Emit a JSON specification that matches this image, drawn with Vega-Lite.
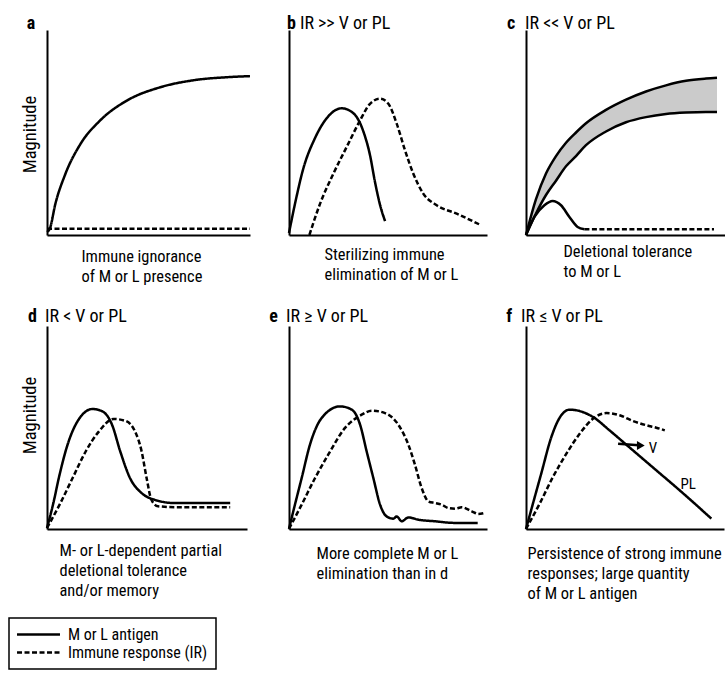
{
  "$schema": "https://vega.github.io/schema/vega-lite/v6.json",
  "background": "white",
  "padding": {"left": 8, "top": 14, "right": 0, "bottom": 0},
  "bounds": "flush",
  "align": "each",
  "columns": 3,
  "spacing": {"row": 91, "column": 39},
  "resolve": {"scale": {"strokeDash": "shared"}, "legend": {"strokeDash": "shared"}},
  "datasets": {
    "curves": [
      {"panel": "a", "series": "M or L antigen", "x": 0, "y": 0.15},
      {"panel": "a", "series": "M or L antigen", "x": 0.15, "y": 0.34},
      {"panel": "a", "series": "M or L antigen", "x": 0.4, "y": 1.47},
      {"panel": "a", "series": "M or L antigen", "x": 0.89, "y": 2.94},
      {"panel": "a", "series": "M or L antigen", "x": 1.63, "y": 4.41},
      {"panel": "a", "series": "M or L antigen", "x": 2.62, "y": 5.59},
      {"panel": "a", "series": "M or L antigen", "x": 3.96, "y": 6.57},
      {"panel": "a", "series": "M or L antigen", "x": 5.59, "y": 7.21},
      {"panel": "a", "series": "M or L antigen", "x": 7.23, "y": 7.55},
      {"panel": "a", "series": "M or L antigen", "x": 8.91, "y": 7.7},
      {"panel": "a", "series": "M or L antigen", "x": 10, "y": 7.75},
      {"panel": "a", "series": "Immune response (IR)", "x": 0, "y": 0.3},
      {"panel": "a", "series": "Immune response (IR)", "x": 10, "y": 0.3},

      {"panel": "b", "series": "M or L antigen", "x": 0, "y": 0.1},
      {"panel": "b", "series": "M or L antigen", "x": 0.3, "y": 1.51},
      {"panel": "b", "series": "M or L antigen", "x": 0.72, "y": 3.23},
      {"panel": "b", "series": "M or L antigen", "x": 1.31, "y": 4.72},
      {"panel": "b", "series": "M or L antigen", "x": 1.9, "y": 5.69},
      {"panel": "b", "series": "M or L antigen", "x": 2.66, "y": 6.18},
      {"panel": "b", "series": "M or L antigen", "x": 3.25, "y": 5.94},
      {"panel": "b", "series": "M or L antigen", "x": 3.76, "y": 5.04},
      {"panel": "b", "series": "M or L antigen", "x": 4.09, "y": 3.9},
      {"panel": "b", "series": "M or L antigen", "x": 4.34, "y": 2.6},
      {"panel": "b", "series": "M or L antigen", "x": 4.6, "y": 1.46},
      {"panel": "b", "series": "M or L antigen", "x": 4.85, "y": 0.68},
      {"panel": "b", "series": "Immune response (IR)", "x": 1.03, "y": 0},
      {"panel": "b", "series": "Immune response (IR)", "x": 1.57, "y": 1.53},
      {"panel": "b", "series": "Immune response (IR)", "x": 2.24, "y": 2.99},
      {"panel": "b", "series": "Immune response (IR)", "x": 2.91, "y": 4.29},
      {"panel": "b", "series": "Immune response (IR)", "x": 3.59, "y": 5.59},
      {"panel": "b", "series": "Immune response (IR)", "x": 4.09, "y": 6.4},
      {"panel": "b", "series": "Immune response (IR)", "x": 4.6, "y": 6.65},
      {"panel": "b", "series": "Immune response (IR)", "x": 5.02, "y": 6.4},
      {"panel": "b", "series": "Immune response (IR)", "x": 5.44, "y": 5.43},
      {"panel": "b", "series": "Immune response (IR)", "x": 5.86, "y": 4.13},
      {"panel": "b", "series": "Immune response (IR)", "x": 6.28, "y": 2.99},
      {"panel": "b", "series": "Immune response (IR)", "x": 6.78, "y": 2.02},
      {"panel": "b", "series": "Immune response (IR)", "x": 7.46, "y": 1.45},
      {"panel": "b", "series": "Immune response (IR)", "x": 8.47, "y": 1.04},
      {"panel": "b", "series": "Immune response (IR)", "x": 9.65, "y": 0.5},

      {"panel": "d", "series": "M or L antigen", "x": 0, "y": 0.05},
      {"panel": "d", "series": "M or L antigen", "x": 0.3, "y": 1.2},
      {"panel": "d", "series": "M or L antigen", "x": 0.63, "y": 2.68},
      {"panel": "d", "series": "M or L antigen", "x": 1.03, "y": 4.16},
      {"panel": "d", "series": "M or L antigen", "x": 1.53, "y": 5.31},
      {"panel": "d", "series": "M or L antigen", "x": 2.27, "y": 5.91},
      {"panel": "d", "series": "M or L antigen", "x": 2.76, "y": 5.8},
      {"panel": "d", "series": "M or L antigen", "x": 3.25, "y": 5.14},
      {"panel": "d", "series": "M or L antigen", "x": 3.66, "y": 3.83},
      {"panel": "d", "series": "M or L antigen", "x": 4.15, "y": 2.51},
      {"panel": "d", "series": "M or L antigen", "x": 4.73, "y": 1.77},
      {"panel": "d", "series": "M or L antigen", "x": 5.38, "y": 1.44},
      {"panel": "d", "series": "M or L antigen", "x": 6.37, "y": 1.28},
      {"panel": "d", "series": "M or L antigen", "x": 9.16, "y": 1.28},
      {"panel": "d", "series": "Immune response (IR)", "x": 0, "y": 0.05},
      {"panel": "d", "series": "Immune response (IR)", "x": 0.63, "y": 1.2},
      {"panel": "d", "series": "Immune response (IR)", "x": 1.28, "y": 2.51},
      {"panel": "d", "series": "Immune response (IR)", "x": 1.94, "y": 3.83},
      {"panel": "d", "series": "Immune response (IR)", "x": 2.6, "y": 4.81},
      {"panel": "d", "series": "Immune response (IR)", "x": 3.33, "y": 5.42},
      {"panel": "d", "series": "Immune response (IR)", "x": 3.91, "y": 5.33},
      {"panel": "d", "series": "Immune response (IR)", "x": 4.4, "y": 4.81},
      {"panel": "d", "series": "Immune response (IR)", "x": 4.73, "y": 3.83},
      {"panel": "d", "series": "Immune response (IR)", "x": 4.98, "y": 2.51},
      {"panel": "d", "series": "Immune response (IR)", "x": 5.22, "y": 1.44},
      {"panel": "d", "series": "Immune response (IR)", "x": 5.55, "y": 1.12},
      {"panel": "d", "series": "Immune response (IR)", "x": 6.54, "y": 1.07},
      {"panel": "d", "series": "Immune response (IR)", "x": 9.16, "y": 1.07},

      {"panel": "e", "series": "M or L antigen", "x": 0, "y": 0.01},
      {"panel": "e", "series": "M or L antigen", "x": 0.3, "y": 1.2},
      {"panel": "e", "series": "M or L antigen", "x": 0.64, "y": 2.51},
      {"panel": "e", "series": "M or L antigen", "x": 1.06, "y": 4.16},
      {"panel": "e", "series": "M or L antigen", "x": 1.65, "y": 5.47},
      {"panel": "e", "series": "M or L antigen", "x": 2.58, "y": 6.04},
      {"panel": "e", "series": "M or L antigen", "x": 3.17, "y": 5.88},
      {"panel": "e", "series": "M or L antigen", "x": 3.59, "y": 5.14},
      {"panel": "e", "series": "M or L antigen", "x": 3.92, "y": 3.83},
      {"panel": "e", "series": "M or L antigen", "x": 4.26, "y": 2.51},
      {"panel": "e", "series": "M or L antigen", "x": 4.6, "y": 1.2},
      {"panel": "e", "series": "M or L antigen", "x": 4.93, "y": 0.62},
      {"panel": "e", "series": "M or L antigen", "x": 5.27, "y": 0.51},
      {"panel": "e", "series": "M or L antigen", "x": 5.44, "y": 0.62},
      {"panel": "e", "series": "M or L antigen", "x": 5.69, "y": 0.38},
      {"panel": "e", "series": "M or L antigen", "x": 6.03, "y": 0.57},
      {"panel": "e", "series": "M or L antigen", "x": 6.53, "y": 0.46},
      {"panel": "e", "series": "M or L antigen", "x": 7.37, "y": 0.38},
      {"panel": "e", "series": "M or L antigen", "x": 8.38, "y": 0.3},
      {"panel": "e", "series": "M or L antigen", "x": 9.53, "y": 0.3},
      {"panel": "e", "series": "Immune response (IR)", "x": 0, "y": 0.01},
      {"panel": "e", "series": "Immune response (IR)", "x": 0.64, "y": 1.2},
      {"panel": "e", "series": "Immune response (IR)", "x": 1.31, "y": 2.5},
      {"panel": "e", "series": "Immune response (IR)", "x": 1.98, "y": 3.66},
      {"panel": "e", "series": "Immune response (IR)", "x": 2.83, "y": 4.98},
      {"panel": "e", "series": "Immune response (IR)", "x": 3.67, "y": 5.63},
      {"panel": "e", "series": "Immune response (IR)", "x": 4.18, "y": 5.83},
      {"panel": "e", "series": "Immune response (IR)", "x": 4.85, "y": 5.71},
      {"panel": "e", "series": "Immune response (IR)", "x": 5.52, "y": 5.14},
      {"panel": "e", "series": "Immune response (IR)", "x": 6.03, "y": 4.15},
      {"panel": "e", "series": "Immune response (IR)", "x": 6.36, "y": 3.17},
      {"panel": "e", "series": "Immune response (IR)", "x": 6.7, "y": 2.02},
      {"panel": "e", "series": "Immune response (IR)", "x": 7.04, "y": 1.36},
      {"panel": "e", "series": "Immune response (IR)", "x": 7.37, "y": 1.28},
      {"panel": "e", "series": "Immune response (IR)", "x": 7.71, "y": 1.2},
      {"panel": "e", "series": "Immune response (IR)", "x": 8.05, "y": 1.03},
      {"panel": "e", "series": "Immune response (IR)", "x": 8.38, "y": 1.0},
      {"panel": "e", "series": "Immune response (IR)", "x": 8.72, "y": 1.07},
      {"panel": "e", "series": "Immune response (IR)", "x": 9.23, "y": 0.87},
      {"panel": "e", "series": "Immune response (IR)", "x": 9.56, "y": 0.74},
      {"panel": "e", "series": "Immune response (IR)", "x": 9.86, "y": 0.79},

      {"panel": "f", "series": "M or L antigen", "x": 0, "y": 0},
      {"panel": "f", "series": "M or L antigen", "x": 0.35, "y": 1.25},
      {"panel": "f", "series": "M or L antigen", "x": 0.77, "y": 2.73},
      {"panel": "f", "series": "M or L antigen", "x": 1.28, "y": 4.53},
      {"panel": "f", "series": "M or L antigen", "x": 1.78, "y": 5.6},
      {"panel": "f", "series": "M or L antigen", "x": 2.21, "y": 5.88},
      {"panel": "f", "series": "M or L antigen", "x": 2.71, "y": 5.81},
      {"panel": "f", "series": "M or L antigen", "x": 3.38, "y": 5.52},
      {"panel": "f", "series": "M or L antigen", "x": 4.23, "y": 4.85},
      {"panel": "f", "series": "M or L antigen", "x": 5.07, "y": 4.15},
      {"panel": "f", "series": "M or L antigen", "x": 5.91, "y": 3.45},
      {"panel": "f", "series": "M or L antigen", "x": 6.75, "y": 2.75},
      {"panel": "f", "series": "M or L antigen", "x": 7.59, "y": 2.05},
      {"panel": "f", "series": "M or L antigen", "x": 8.43, "y": 1.33},
      {"panel": "f", "series": "M or L antigen", "x": 9.36, "y": 0.51},
      {"panel": "f", "series": "Immune response (IR)", "x": 0, "y": 0},
      {"panel": "f", "series": "Immune response (IR)", "x": 0.69, "y": 1.25},
      {"panel": "f", "series": "Immune response (IR)", "x": 1.36, "y": 2.56},
      {"panel": "f", "series": "Immune response (IR)", "x": 2.04, "y": 3.71},
      {"panel": "f", "series": "Immune response (IR)", "x": 2.71, "y": 4.69},
      {"panel": "f", "series": "Immune response (IR)", "x": 3.38, "y": 5.43},
      {"panel": "f", "series": "Immune response (IR)", "x": 4.06, "y": 5.71},
      {"panel": "f", "series": "Immune response (IR)", "x": 4.73, "y": 5.6},
      {"panel": "f", "series": "Immune response (IR)", "x": 5.4, "y": 5.32},
      {"panel": "f", "series": "Immune response (IR)", "x": 6.08, "y": 5.11},
      {"panel": "f", "series": "Immune response (IR)", "x": 6.58, "y": 4.99},
      {"panel": "f", "series": "Immune response (IR)", "x": 7.01, "y": 4.86}
    ],
    "c_band": [
      {"x": 0, "upper": 0, "lower": 0},
      {"x": 0.5, "upper": 1.75, "lower": 1.05},
      {"x": 1, "upper": 3.0, "lower": 1.95},
      {"x": 1.5, "upper": 3.85, "lower": 2.65},
      {"x": 2, "upper": 4.5, "lower": 3.35},
      {"x": 2.5, "upper": 5.0, "lower": 3.85},
      {"x": 3, "upper": 5.45, "lower": 4.38},
      {"x": 4, "upper": 6.1, "lower": 5.05},
      {"x": 5, "upper": 6.6, "lower": 5.5},
      {"x": 6, "upper": 7.0, "lower": 5.75},
      {"x": 7, "upper": 7.3, "lower": 5.9},
      {"x": 8, "upper": 7.52, "lower": 5.97},
      {"x": 9, "upper": 7.63, "lower": 6.0},
      {"x": 9.55, "upper": 7.67, "lower": 6.0}
    ],
    "c_ir": [
      {"x": 0, "y": 0},
      {"x": 0.42, "y": 0.88},
      {"x": 0.92, "y": 1.45},
      {"x": 1.33, "y": 1.66},
      {"x": 1.75, "y": 1.45},
      {"x": 2.17, "y": 0.88},
      {"x": 2.58, "y": 0.39},
      {"x": 2.92, "y": 0.28},
      {"x": 9.4, "y": 0.28}
    ],
    "one": [{}]
  },
  "concat": [
    {
      "width": 203, "height": 205,
      "layer": [
        {
          "data": {"name": "curves"},
          "transform": [{"filter": "datum.panel === 'a'"}],
          "mark": {"type": "line", "stroke": "black", "strokeWidth": 2.5, "interpolate": "monotone"},
          "encoding": {
            "x": {"field": "x", "type": "quantitative", "scale": {"domain": [0, 10], "nice": false},
                  "axis": {"title": ["Immune ignorance", "of M or L presence"], "titleX": 34, "titleY": 13}},
            "y": {"field": "y", "type": "quantitative", "scale": {"domain": [0, 10], "nice": false},
                  "axis": {"title": "Magnitude", "titleY": 104}},
            "strokeDash": {"field": "series", "type": "nominal",
                           "scale": {"domain": ["M or L antigen", "Immune response (IR)"], "range": [[1, 0], [5, 2.5]]},
                           "legend": {"title": null, "orient": "none", "legendX": -38, "legendY": 588}}
          }
        },
        {
          "data": {"name": "one"},
          "mark": {"type": "text", "align": "left", "baseline": "middle", "fontWeight": "bold"},
          "encoding": {"x": {"datum": -1.0}, "y": {"datum": 10.3}, "text": {"value": "a"}}
        }
      ]
    },
    {
      "width": 198, "height": 205,
      "layer": [
        {
          "data": {"name": "curves"},
          "transform": [{"filter": "datum.panel === 'b'"}],
          "mark": {"type": "line", "stroke": "black", "strokeWidth": 2.5, "interpolate": "monotone"},
          "encoding": {
            "x": {"field": "x", "type": "quantitative", "scale": {"domain": [0, 10], "nice": false},
                  "axis": {"title": ["Sterilizing immune", "elimination of M or L"], "titleX": 35, "titleY": 11}},
            "y": {"field": "y", "type": "quantitative", "scale": {"domain": [0, 10], "nice": false}, "axis": {"title": null}},
            "strokeDash": {"field": "series", "type": "nominal",
                           "scale": {"domain": ["M or L antigen", "Immune response (IR)"], "range": [[1, 0], [5, 2.5]]},
                           "legend": {"title": null, "orient": "none", "legendX": -38, "legendY": 588}}
          }
        },
        {
          "data": {"name": "one"},
          "mark": {"type": "text", "align": "left", "baseline": "middle", "fontWeight": "bold"},
          "encoding": {"x": {"datum": -0.1}, "y": {"datum": 10.3}, "text": {"value": "b"}}
        },
        {
          "data": {"name": "one"},
          "mark": {"type": "text", "align": "left", "baseline": "middle"},
          "encoding": {"x": {"datum": 0.55}, "y": {"datum": 10.3}, "text": {"value": "IR >> V or PL"}}
        }
      ]
    },
    {
      "width": 200, "height": 205,
      "layer": [
        {
          "data": {"name": "c_band"},
          "mark": {"type": "area", "color": "#cbcbcb", "interpolate": "monotone"},
          "encoding": {
            "x": {"field": "x", "type": "quantitative", "scale": {"domain": [0, 10], "nice": false},
                  "axis": {"title": ["Deletional tolerance", "to M or L"], "titleX": 37, "titleY": 8}},
            "y": {"field": "upper", "type": "quantitative", "scale": {"domain": [0, 10], "nice": false}, "axis": {"title": null}},
            "y2": {"field": "lower"}
          }
        },
        {
          "data": {"name": "c_band"},
          "mark": {"type": "line", "stroke": "black", "strokeWidth": 2.5, "interpolate": "monotone"},
          "encoding": {
            "x": {"field": "x", "type": "quantitative"},
            "y": {"field": "upper", "type": "quantitative"}
          }
        },
        {
          "data": {"name": "c_band"},
          "mark": {"type": "line", "stroke": "black", "strokeWidth": 2.5, "interpolate": "monotone"},
          "encoding": {
            "x": {"field": "x", "type": "quantitative"},
            "y": {"field": "lower", "type": "quantitative"}
          }
        },
        {
          "data": {"name": "c_ir"},
          "transform": [{"filter": "datum.x <= 2.92"}],
          "mark": {"type": "line", "stroke": "black", "strokeWidth": 2.5, "interpolate": "monotone"},
          "encoding": {
            "x": {"field": "x", "type": "quantitative"},
            "y": {"field": "y", "type": "quantitative"}
          }
        },
        {
          "data": {"name": "c_ir"},
          "transform": [{"filter": "datum.x >= 2.92"}],
          "mark": {"type": "line", "stroke": "black", "strokeWidth": 2.5, "strokeDash": [5, 2.5]},
          "encoding": {
            "x": {"field": "x", "type": "quantitative"},
            "y": {"field": "y", "type": "quantitative"}
          }
        },
        {
          "data": {"name": "one"},
          "mark": {"type": "text", "align": "left", "baseline": "middle", "fontWeight": "bold"},
          "encoding": {"x": {"datum": -0.95}, "y": {"datum": 10.3}, "text": {"value": "c"}}
        },
        {
          "data": {"name": "one"},
          "mark": {"type": "text", "align": "left", "baseline": "middle"},
          "encoding": {"x": {"datum": -0.05}, "y": {"datum": 10.3}, "text": {"value": "IR << V or PL"}}
        }
      ]
    },
    {
      "width": 200, "height": 203,
      "layer": [
        {
          "data": {"name": "curves"},
          "transform": [{"filter": "datum.panel === 'd'"}],
          "mark": {"type": "line", "stroke": "black", "strokeWidth": 2.5, "interpolate": "monotone"},
          "encoding": {
            "x": {"field": "x", "type": "quantitative", "scale": {"domain": [0, 10], "nice": false},
                  "axis": {"title": ["M- or L-dependent partial", "deletional tolerance", "and/or memory"], "titleX": 12, "titleY": 13}},
            "y": {"field": "y", "type": "quantitative", "scale": {"domain": [0, 10], "nice": false},
                  "axis": {"title": "Magnitude", "titleY": 89}},
            "strokeDash": {"field": "series", "type": "nominal",
                           "scale": {"domain": ["M or L antigen", "Immune response (IR)"], "range": [[1, 0], [5, 2.5]]},
                           "legend": {"title": null, "orient": "none", "legendX": -38, "legendY": 588}}
          }
        },
        {
          "data": {"name": "one"},
          "mark": {"type": "text", "align": "left", "baseline": "middle", "fontWeight": "bold"},
          "encoding": {"x": {"datum": -0.95}, "y": {"datum": 10.45}, "text": {"value": "d"}}
        },
        {
          "data": {"name": "one"},
          "mark": {"type": "text", "align": "left", "baseline": "middle"},
          "encoding": {"x": {"datum": -0.1}, "y": {"datum": 10.45}, "text": {"value": "IR < V or PL"}}
        }
      ]
    },
    {
      "width": 198, "height": 203,
      "layer": [
        {
          "data": {"name": "curves"},
          "transform": [{"filter": "datum.panel === 'e'"}],
          "mark": {"type": "line", "stroke": "black", "strokeWidth": 2.5, "interpolate": "monotone"},
          "encoding": {
            "x": {"field": "x", "type": "quantitative", "scale": {"domain": [0, 10], "nice": false},
                  "axis": {"title": ["More complete M or L", "elimination than in d"], "titleX": 27, "titleY": 16}},
            "y": {"field": "y", "type": "quantitative", "scale": {"domain": [0, 10], "nice": false}, "axis": {"title": null}},
            "strokeDash": {"field": "series", "type": "nominal",
                           "scale": {"domain": ["M or L antigen", "Immune response (IR)"], "range": [[1, 0], [5, 2.5]]},
                           "legend": {"title": null, "orient": "none", "legendX": -38, "legendY": 588}}
          }
        },
        {
          "data": {"name": "one"},
          "mark": {"type": "text", "align": "left", "baseline": "middle", "fontWeight": "bold"},
          "encoding": {"x": {"datum": -1.0}, "y": {"datum": 10.45}, "text": {"value": "e"}}
        },
        {
          "data": {"name": "one"},
          "mark": {"type": "text", "align": "left", "baseline": "middle"},
          "encoding": {"x": {"datum": -0.15}, "y": {"datum": 10.45}, "text": {"value": "IR ≥ V or PL"}}
        }
      ]
    },
    {
      "width": 198, "height": 203,
      "layer": [
        {
          "data": {"name": "curves"},
          "transform": [{"filter": "datum.panel === 'f'"}],
          "mark": {"type": "line", "stroke": "black", "strokeWidth": 2.5, "interpolate": "monotone"},
          "encoding": {
            "x": {"field": "x", "type": "quantitative", "scale": {"domain": [0, 10], "nice": false},
                  "axis": {"title": ["Persistence of strong immune", "responses; large quantity", "of M or L antigen"], "titleX": 1, "titleY": 16}},
            "y": {"field": "y", "type": "quantitative", "scale": {"domain": [0, 10], "nice": false}, "axis": {"title": null}},
            "strokeDash": {"field": "series", "type": "nominal",
                           "scale": {"domain": ["M or L antigen", "Immune response (IR)"], "range": [[1, 0], [5, 2.5]]},
                           "legend": {"title": null, "orient": "none", "legendX": -38, "legendY": 588}}
          }
        },
        {
          "data": {"name": "one"},
          "mark": {"type": "rule", "stroke": "black", "strokeWidth": 2.5},
          "encoding": {"x": {"datum": 4.65}, "y": {"datum": 4.2}, "x2": {"datum": 5.7}, "y2": {"datum": 4.12}}
        },
        {
          "data": {"name": "one"},
          "mark": {"type": "point", "shape": "triangle-right", "filled": true, "color": "black", "size": 80, "opacity": 1},
          "encoding": {"x": {"datum": 5.8}, "y": {"datum": 4.11}}
        },
        {
          "data": {"name": "one"},
          "mark": {"type": "text", "align": "left", "baseline": "middle", "fontSize": 15},
          "encoding": {"x": {"datum": 6.2}, "y": {"datum": 4.0}, "text": {"value": "V"}}
        },
        {
          "data": {"name": "one"},
          "mark": {"type": "text", "align": "left", "baseline": "middle", "fontSize": 15},
          "encoding": {"x": {"datum": 7.8}, "y": {"datum": 2.2}, "text": {"value": "PL"}}
        },
        {
          "data": {"name": "one"},
          "mark": {"type": "text", "align": "left", "baseline": "middle", "fontWeight": "bold"},
          "encoding": {"x": {"datum": -1.0}, "y": {"datum": 10.45}, "text": {"value": "f"}}
        },
        {
          "data": {"name": "one"},
          "mark": {"type": "text", "align": "left", "baseline": "middle"},
          "encoding": {"x": {"datum": -0.25}, "y": {"datum": 10.45}, "text": {"value": "IR ≤ V or PL"}}
        }
      ]
    }
  ],
  "config": {
    "view": {"stroke": null},
    "font": "Roboto Condensed, Liberation Sans Narrow, DejaVu Sans Condensed, sans-serif",
    "axis": {
      "domainColor": "black", "domainWidth": 2, "ticks": false, "labels": false, "grid": false,
      "titleFontSize": 16.4, "titleFontWeight": "normal", "titleColor": "black",
      "titleFont": "Roboto Condensed, Liberation Sans Narrow, DejaVu Sans Condensed, sans-serif"
    },
    "axisX": {"titleAlign": "left", "titleBaseline": "top", "titleAnchor": "start", "titleLineHeight": 20},
    "axisY": {"titlePadding": 8, "titleFontSize": 18.5},
    "text": {"fontSize": 18, "color": "black", "font": "Roboto Condensed, Liberation Sans Narrow, DejaVu Sans Condensed, sans-serif"},
    "legend": {
      "strokeColor": "black", "strokeWidth": 1.5, "padding": 8, "symbolType": "M-3,0H3", "symbolSize": 205,
      "symbolOffset": 13, "symbolStrokeWidth": 2.5, "symbolStrokeColor": "black", "labelFontSize": 16, "labelColor": "black",
      "labelFont": "Roboto Condensed, Liberation Sans Narrow, DejaVu Sans Condensed, sans-serif",
      "labelOffset": 21, "rowPadding": 1, "cornerRadius": 0
    }
  }
}
